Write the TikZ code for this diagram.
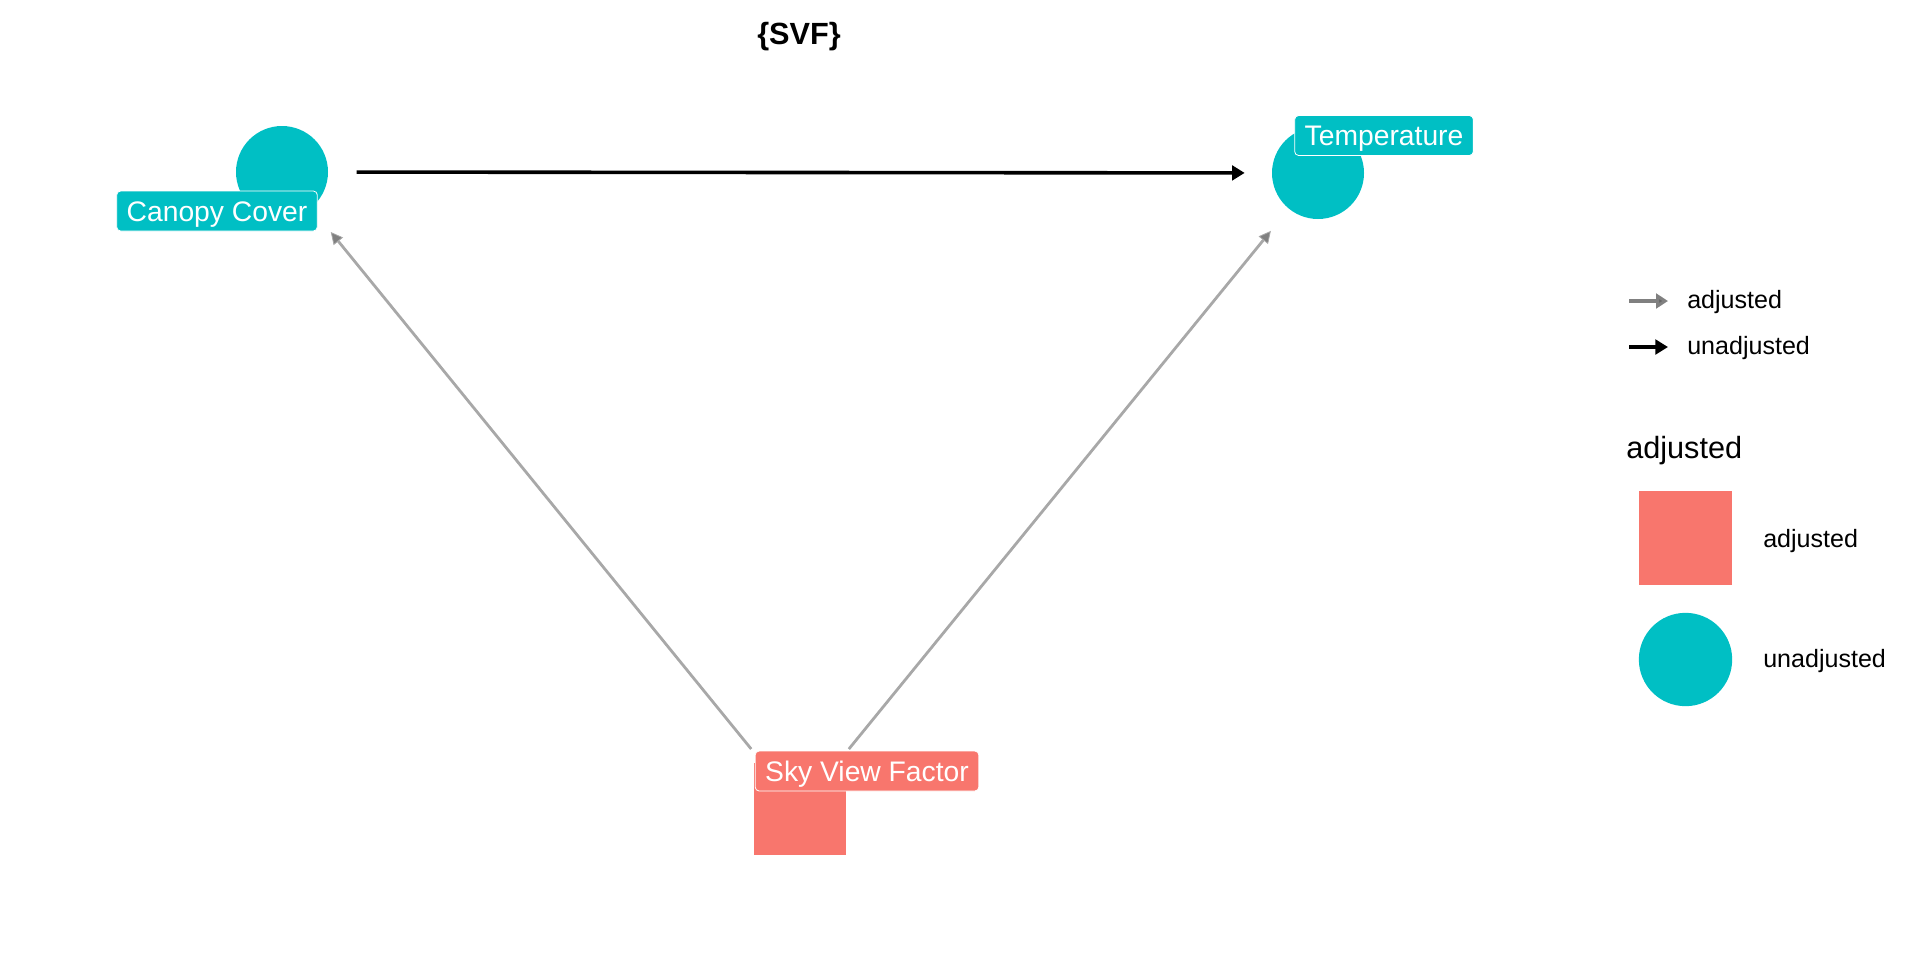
\documentclass[tikz,border=0pt]{standalone}
\usepackage{fontspec}
\setmainfont{Liberation Sans}
\usetikzlibrary{arrows.meta}
\definecolor{teal}{HTML}{00BFC4}
\definecolor{salmon}{HTML}{F8766D}
\definecolor{edgegray}{HTML}{A8A8A8}
\definecolor{leggray}{HTML}{808080}
\tikzset{
  circ/.style={circle,fill=teal,draw=none,minimum size=69pt,inner sep=0pt},
  sq/.style={rectangle,fill=salmon,draw=none,minimum size=69pt,inner sep=0pt},
  lab/.style={rounded corners=3pt,draw=white,line width=0.6pt,text=white,inner xsep=7.5pt,inner ysep=0pt,minimum height=30pt,text height=15.2pt,text depth=0pt,font=\fontsize{21.2}{24}\selectfont},
  tealab/.style={lab,fill=teal},
  salab/.style={lab,fill=salmon},
  adjedge/.style={draw=edgegray,line width=2.1pt,-{Triangle[length=9pt,width=9pt,fill=leggray,color=edgegray,line width=0.6pt]}},
  unadjedge/.style={draw=black,line width=2.7pt,-{Triangle[length=9.5pt,width=11pt]}},
  legtxt/.style={anchor=west,font=\fontsize{18.8}{22}\selectfont,inner sep=0pt},
}
\begin{document}
\begin{tikzpicture}[x=0.75pt,y=-0.75pt]
\useasboundingbox (0,0) rectangle (1920,960);
% title
\node[font=\bfseries\fontsize{23}{26}\selectfont] (title) at (799,37) {\{SVF\}};
% nodes
\node[circ] (cc) at (282,172) {};
\node[circ] (temp) at (1318,173) {};
\node[sq] (svf) at (800,809) {};
% edges
\draw[adjedge,shorten <=58pt,shorten >=58pt] (svf.center) -- (cc.center);
\draw[adjedge,shorten <=58pt,shorten >=56pt] (svf.center) -- (temp.center);
\draw[unadjedge,shorten <=56pt,shorten >=55pt] (cc.center) -- (temp.center);
% labels
\node[tealab] (cclab) at (217,211) {Canopy Cover};
\node[tealab] (templab) at (1384,135.5) {Temperature};
\node[salab] (svflab) at (867,771) {Sky View Factor};
% legend: edges
\coordinate (la1s) at (1629,301);
\coordinate (la1e) at (1668,301);
\coordinate (la2s) at (1629,347);
\coordinate (la2e) at (1668,347);
\draw[draw=leggray,line width=2.4pt,-{Triangle[length=9pt,width=11pt,fill=leggray!80!black]}] (la1s) -- (la1e);
\draw[unadjedge] (la2s) -- (la2e);
\node[legtxt] (lt1) at (1687,302) {adjusted};
\node[legtxt] (lt2) at (1687,348) {unadjusted};
% legend: nodes
\node[anchor=west,font=\fontsize{23}{26}\selectfont,inner sep=0pt] (legtitle) at (1626,451) {adjusted};
\node[sq,minimum size=70pt] (lsq) at (1685.5,538) {};
\node[circ,minimum size=70pt] (lci) at (1685.5,659.5) {};
\node[legtxt] (lt3) at (1763,541) {adjusted};
\node[legtxt] (lt4) at (1763,661) {unadjusted};
\end{tikzpicture}
\end{document}
